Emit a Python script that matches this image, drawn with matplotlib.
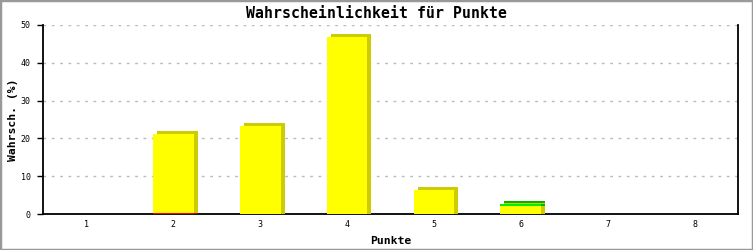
import matplotlib
matplotlib.use("Agg")
import matplotlib.pyplot as plt
import matplotlib.transforms as mtransforms
from matplotlib.patches import Rectangle

categories = [1, 2, 3, 4, 5, 6, 7, 8]
red_vals = [0, 0.15, 0, 0, 0, 0, 0, 0]
yellow_vals = [0, 20.9, 23.3, 46.9, 6.3, 2.2, 0, 0]
green_vals = [0, 0, 0, 0, 0, 0.45, 0, 0]
yticks = [0, 10, 20, 30, 40, 50]

series = [
    (red_vals, "#ff0000", "#b00000"),
    (yellow_vals, "#ffff00", "#cccc00"),
    (green_vals, "#00ee00", "#00b400"),
]

fig = plt.figure(figsize=(7.53, 2.5), dpi=100)
ax = fig.add_axes([43 / 753, 36 / 250, 695 / 753, 189 / 250])

width = 0.47
dx, dy = 4 / 100, 3 / 100  # inches
off_xy = mtransforms.ScaledTranslation(dx, dy, fig.dpi_scale_trans)
off_x = mtransforms.ScaledTranslation(dx, 0, fig.dpi_scale_trans)

bottoms = [0.0] * len(categories)
for vals, front, shade in series:
    for i, (c, v) in enumerate(zip(categories, vals)):
        if v <= 0:
            continue
        b = bottoms[i]
        for off in (off_xy, off_x):
            ax.bar([c], [v], width=width, bottom=[b], color=shade, linewidth=0,
                   transform=ax.transData + off, zorder=3)
        ax.bar([c], [v], width=width, bottom=[b], color=front, linewidth=0, zorder=4)
        bottoms[i] = b + v

ax.set_xlim(0.5, 8.5)
ax.set_ylim(0, 50)
ax.set_yticks(yticks)
ax.set_xticks(categories)
ax.set_xticklabels([str(c) for c in categories], fontsize=6, family="DejaVu Sans Mono")
ax.set_yticklabels([str(t) for t in yticks], fontsize=6, family="DejaVu Sans Mono")
ax.tick_params(axis="x", length=0, pad=4)
ax.tick_params(axis="y", length=4, width=1, pad=5)

ax.yaxis.grid(True, linestyle=(0, (2, 4)), color="#bbbbbb", linewidth=1)
ax.set_axisbelow(True)
ax.spines["top"].set_visible(False)
for s in ["left", "bottom", "right"]:
    ax.spines[s].set_linewidth(1.3)
    ax.spines[s].set_color("black")

ax.set_xlabel("Punkte", fontsize=8.2, fontweight="bold", family="DejaVu Sans Mono", labelpad=5)
ax.set_ylabel("Wahrsch. (%)", fontsize=8.2, fontweight="bold", family="DejaVu Sans Mono", labelpad=2)
fig.text(0.5, 1 - 13 / 250, "Wahrscheinlichkeit für Punkte", ha="center", va="center",
         fontsize=10.7, fontweight="bold", family="DejaVu Sans Mono")

fig.patches.append(Rectangle((0, 0), 1, 1, transform=fig.transFigure, fill=False,
                             edgecolor="#999999", linewidth=2.5, zorder=10))

fig.savefig("out.png", dpi=100)
